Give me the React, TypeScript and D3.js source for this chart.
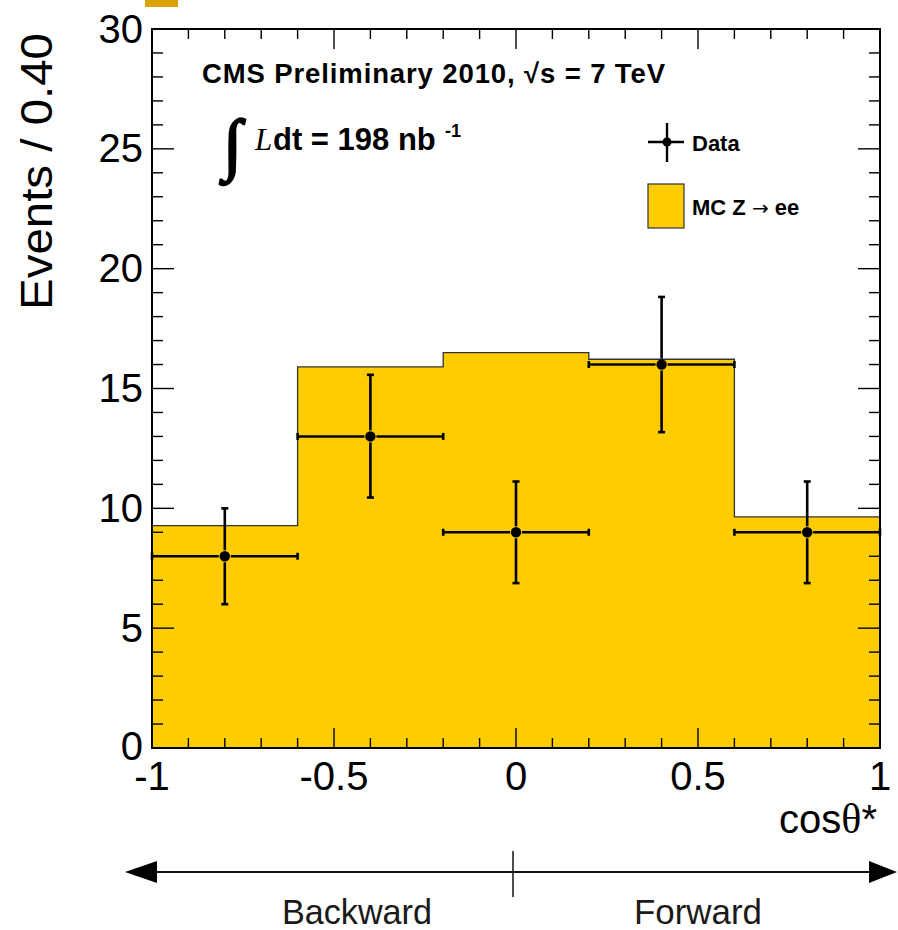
import React from "react";
import * as d3 from "d3";

const binEdges = [-1, -0.6, -0.2, 0.2, 0.6, 1];
const mcValues = [9.28, 15.9, 16.5, 16.22, 9.64];
const dataX = [-0.8, -0.4, 0, 0.4, 0.8];
const dataValues = [8, 13, 9, 16, 9];
const dataErrLow = [2.0, 2.55, 2.12, 2.82, 2.12];
const dataErrHigh = [2.0, 2.57, 2.12, 2.82, 2.12];
const xTickLabels = [-1, -0.5, 0, 0.5, 1];
const yTickLabels = [0, 5, 10, 15, 20, 25, 30];

const W = 898;
const H = 930;
const SANS = "'Liberation Sans', Arial, Helvetica, sans-serif";
const SERIF = "'Liberation Serif', 'Times New Roman', serif";
const FILL = "#FFCC00";

export default function App() {
  const x = d3.scaleLinear().domain([-1, 1]).range([152, 880]);
  const y = d3.scaleLinear().domain([0, 30]).range([748, 29]);
  const [x0, x1] = x.range();
  const [y0, y1] = y.range();

  const xMinor = d3.range(-10, 11).map((i) => i / 10);
  const yMinor = d3.range(0, 31);

  const stepPts: [number, number][] = mcValues.map((v, i) => [binEdges[i], v]);
  stepPts.push([binEdges[binEdges.length - 1], mcValues[mcValues.length - 1]]);

  const area = d3
    .area<[number, number]>()
    .x((d) => x(d[0]))
    .y0(y(0))
    .y1((d) => y(d[1]))
    .curve(d3.curveStepAfter);
  const line = d3
    .line<[number, number]>()
    .x((d) => x(d[0]))
    .y((d) => y(d[1]))
    .curve(d3.curveStepAfter);

  const gap = 6;
  const cap = 3.5;

  return (
    <svg
      width={W}
      height={H}
      style={{ position: "absolute", left: 0, top: 0, background: "#fff" }}
    >
      {/* small cropped mark at top */}
      <rect x={145} y={0} width={33} height={7} fill="#D9A400" />

      {/* MC histogram */}
      <path d={area(stepPts) || ""} fill={FILL} />
      <path d={line(stepPts) || ""} fill="none" stroke="#333" strokeWidth={1.3} />

      {/* data points with error bars */}
      {dataValues.map((v, i) => {
        const cx = x(dataX[i]);
        const cy = y(v);
        const xl = x(binEdges[i]);
        const xr = x(binEdges[i + 1]);
        const yt = y(v + dataErrHigh[i]);
        const yb = y(v - dataErrLow[i]);
        return (
          <g key={i} stroke="#000" strokeWidth={2.6} fill="none">
            <line x1={xl} y1={cy} x2={cx - gap} y2={cy} />
            <line x1={cx + gap} y1={cy} x2={xr} y2={cy} />
            <line x1={xl} y1={cy - cap} x2={xl} y2={cy + cap} />
            <line x1={xr} y1={cy - cap} x2={xr} y2={cy + cap} />
            <line x1={cx} y1={yt} x2={cx} y2={cy - gap} />
            <line x1={cx} y1={cy + gap} x2={cx} y2={yb} />
            <line x1={cx - cap} y1={yt} x2={cx + cap} y2={yt} />
            <line x1={cx - cap} y1={yb} x2={cx + cap} y2={yb} />
            <circle cx={cx} cy={cy} r={5.2} fill="#000" stroke="none" />
          </g>
        );
      })}

      {/* ticks */}
      <g stroke="#000" strokeWidth={1.4}>
        {xMinor.map((t, i) => {
          const major = Math.abs(t * 2 - Math.round(t * 2)) < 1e-6;
          const len = major ? 20 : 10;
          return (
            <g key={"xt" + i}>
              <line x1={x(t)} x2={x(t)} y1={y0} y2={y0 - len} />
              <line x1={x(t)} x2={x(t)} y1={y1} y2={y1 + len} />
            </g>
          );
        })}
        {yMinor.map((t, i) => {
          const major = t % 5 === 0;
          const len = major ? 22 : 11;
          return (
            <g key={"yt" + i}>
              <line x1={x0} x2={x0 + len} y1={y(t)} y2={y(t)} />
              <line x1={x1} x2={x1 - len} y1={y(t)} y2={y(t)} />
            </g>
          );
        })}
      </g>

      {/* frame */}
      <rect
        x={x0}
        y={y1}
        width={x1 - x0}
        height={y0 - y1}
        fill="none"
        stroke="#000"
        strokeWidth={2}
      />

      {/* tick labels */}
      <g fontFamily={SANS} fontSize={40} fill="#000">
        {xTickLabels.map((t) => (
          <text key={"xl" + t} x={x(t)} y={790} textAnchor="middle">
            {t}
          </text>
        ))}
        {yTickLabels.map((t) => (
          <text key={"yl" + t} x={143} y={y(t)} dy={t === 0 ? "0.3em" : "0.34em"} textAnchor="end">
            {t}
          </text>
        ))}
      </g>

      {/* axis titles */}
      <text
        transform="translate(52,171.5) rotate(-90)"
        textAnchor="middle"
        fontFamily={SANS}
        fontSize={44}
        textLength={277}
        lengthAdjust="spacingAndGlyphs"
      >
        Events / 0.40
      </text>
      <text x={877} y={833} textAnchor="end" fontFamily={SANS} fontSize={40}>
        cos<tspan fontFamily={SERIF} fontSize={42}>θ</tspan>*
      </text>

      {/* title */}
      <text
        x={202}
        y={83}
        fontFamily={SANS}
        fontWeight="bold"
        fontSize={27.5}
        textLength={463}
        lengthAdjust="spacing"
      >
        CMS Preliminary 2010, √s = 7 TeV
      </text>

      {/* luminosity */}
      <text
        x={223}
        y={167}
        fontFamily={SERIF}
        fontSize={68}
        stroke="#000"
        strokeWidth={2.2}
      >
        ∫
      </text>
      <text x={255} y={150} fontFamily={SERIF} fontStyle="italic" fontSize={31}>
        L
      </text>
      <text x={273} y={150} fontFamily={SANS} fontWeight="bold" fontSize={31}>
        dt = 198 nb
      </text>
      <text x={445} y={137} fontFamily={SANS} fontWeight="bold" fontSize={18}>
        -1
      </text>

      {/* legend */}
      <g stroke="#000" strokeWidth={2.4}>
        <line x1={648} x2={684} y1={142} y2={142} />
        <line x1={667} x2={667} y1={123} y2={162} />
        <circle cx={667} cy={142} r={4.5} fill="#000" stroke="none" />
      </g>
      <text x={692} y={151} fontFamily={SANS} fontWeight="bold" fontSize={22}>
        Data
      </text>
      <rect x={648} y={184} width={36} height={44} fill={FILL} stroke="#333" strokeWidth={1.2} />
      <text x={692} y={215} fontFamily={SANS} fontWeight="bold" fontSize={22}>
        MC Z{" "}
        <tspan fontFamily="'DejaVu Sans', sans-serif" fontWeight="normal" fontSize={20}>
          →
        </tspan>{" "}
        ee
      </text>

      {/* backward / forward arrow */}
      <line x1={150} x2={875} y1={872} y2={872} stroke="#111" strokeWidth={1.8} />
      <polygon points="125,872 157,861 157,883" fill="#000" />
      <polygon points="897,872 869,861 869,883" fill="#000" />
      <line x1={513} x2={513} y1={851} y2={897} stroke="#111" strokeWidth={1.5} />
      <text
        x={357}
        y={924}
        textAnchor="middle"
        fontFamily={SANS}
        fontSize={35}
        textLength={150}
        lengthAdjust="spacingAndGlyphs"
        fill="#1a1a1a"
      >
        Backward
      </text>
      <text
        x={698}
        y={924}
        textAnchor="middle"
        fontFamily={SANS}
        fontSize={35}
        textLength={128}
        lengthAdjust="spacingAndGlyphs"
        fill="#1a1a1a"
      >
        Forward
      </text>
    </svg>
  );
}
